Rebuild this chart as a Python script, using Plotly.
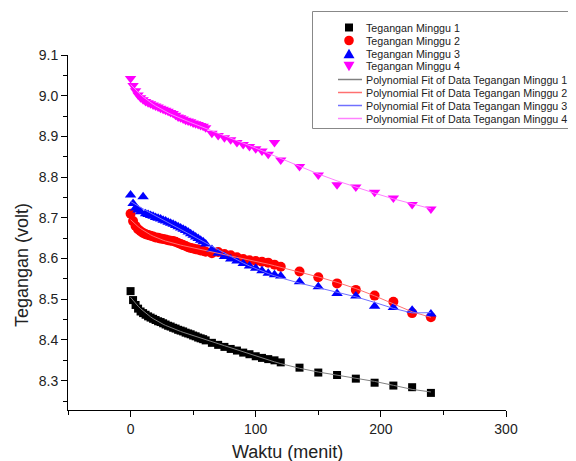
import numpy as np
import plotly.graph_objects as go

# Time (minutes)
waktu = [0, 2, 4, 6, 8, 10, 12, 14, 16, 18, 20, 22, 24, 26, 28, 30, 32, 34, 36, 38,
         40, 42, 44, 46, 48, 50, 52, 54, 56, 58, 60, 65, 70, 75, 80, 85, 90, 95, 100,
         105, 110, 115, 120, 135, 150, 165, 180, 195, 210, 225, 240]

minggu1 = [8.520, 8.498, 8.486, 8.477, 8.470, 8.466, 8.462, 8.458, 8.455, 8.452,
           8.449, 8.446, 8.444, 8.441, 8.438, 8.435, 8.433, 8.430, 8.428, 8.425,
           8.423, 8.421, 8.418, 8.416, 8.414, 8.411, 8.409, 8.406, 8.404, 8.402,
           8.399, 8.393, 8.388, 8.383, 8.378, 8.374, 8.369, 8.365, 8.360, 8.356,
           8.353, 8.350, 8.345, 8.332, 8.320, 8.314, 8.305, 8.295, 8.288, 8.284, 8.270]

minggu2 = [8.710, 8.692, 8.680, 8.672, 8.667, 8.663, 8.660, 8.658, 8.656, 8.654,
           8.652, 8.651, 8.649, 8.648, 8.647, 8.645, 8.644, 8.643, 8.641, 8.638,
           8.636, 8.633, 8.631, 8.628, 8.626, 8.625, 8.623, 8.622, 8.620, 8.619,
           8.617, 8.613, 8.616, 8.611, 8.608, 8.603, 8.599, 8.596, 8.594, 8.592,
           8.590, 8.585, 8.580, 8.568, 8.554, 8.539, 8.523, 8.509, 8.494, 8.466, 8.456]

minggu3 = [8.756, 8.735, 8.724, 8.719, 8.715, 8.752, 8.710, 8.708, 8.706, 8.704,
           8.701, 8.699, 8.697, 8.694, 8.692, 8.689, 8.687, 8.684, 8.681, 8.678,
           8.675, 8.672, 8.669, 8.665, 8.661, 8.657, 8.653, 8.649, 8.645, 8.641,
           8.636, 8.622, 8.613, 8.605, 8.599, 8.594, 8.588, 8.582, 8.576, 8.570,
           8.564, 8.560, 8.557, 8.543, 8.531, 8.514, 8.508, 8.483, 8.480, 8.473, 8.464]

minggu4 = [9.042, 9.025, 9.012, 9.002, 8.995, 8.990, 8.986, 8.983, 8.980, 8.977,
           8.975, 8.972, 8.969, 8.967, 8.964, 8.962, 8.959, 8.956, 8.952, 8.948,
           8.946, 8.943, 8.940, 8.938, 8.936, 8.933, 8.931, 8.929, 8.927, 8.925,
           8.921, 8.908, 8.902, 8.897, 8.892, 8.885, 8.880, 8.875, 8.870, 8.864,
           8.856, 8.885, 8.842, 8.826, 8.805, 8.781, 8.776, 8.763, 8.749, 8.733, 8.722]

names = ["Tegangan Minggu 1", "Tegangan Minggu 2", "Tegangan Minggu 3", "Tegangan Minggu 4"]
series = [minggu1, minggu2, minggu3, minggu4]
colors = ["#000000", "#ff0000", "#0000ff", "#ff00ff"]
fit_colors = ["#808080", "#ff7070", "#7070ff", "#ff80ff"]
symbols = ["square", "circle", "triangle-up", "triangle-down"]
sizes = [8, 10, 10, 10]

# The page has an 8px body margin; work in screen pixels and shift.
OFF = 8
W, H = 576, 461
SL, SR, ST, SB = 68, 506, 55, 410          # plot area on screen
L, R, T, B = SL - OFF, SR - OFF, ST - OFF, SB - OFF   # in figure coords


def px_x(sx):
    return (sx - SL) / (SR - SL)


def px_y(sy):
    return (SB - sy) / (SB - ST)


fig = go.Figure()
for name, ys, c, s, sz in zip(names, series, colors, symbols, sizes):
    fig.add_trace(go.Scatter(x=waktu, y=ys, mode="markers", name=name, showlegend=False,
                             marker=dict(color=c, symbol=s, size=sz, line=dict(width=0))))

xf = np.array(waktu, dtype=float)
fit_names = []
for name, ys, c in zip(names, series, fit_colors):
    p = np.polynomial.Polynomial.fit(xf, np.array(ys), 6)
    fname = "Polynomial Fit of Data " + name
    fit_names.append(fname)
    fig.add_trace(go.Scatter(x=xf, y=p(xf), mode="lines", name=fname, showlegend=False,
                             line=dict(color=c, width=1)))

# ---- legend drawn manually (screen pixel positions) ----
row_y = [27.5 + 13.0 * i for i in range(8)]
sym_x = 349
shapes = [dict(type="rect", xref="paper", yref="paper",
               x0=px_x(312.5), x1=px_x(575), y0=px_y(128.5), y1=px_y(11.5),
               line=dict(color="#888888", width=1), fillcolor="white", layer="below")]

h = 4
shapes.append(dict(type="rect", xref="paper", yref="paper",
                   x0=px_x(sym_x - h), x1=px_x(sym_x + h),
                   y0=px_y(row_y[0] + h), y1=px_y(row_y[0] - h),
                   line=dict(width=0), fillcolor=colors[0]))
r = 4.8
shapes.append(dict(type="circle", xref="paper", yref="paper",
                   x0=px_x(sym_x - r), x1=px_x(sym_x + r),
                   y0=px_y(row_y[1] + r), y1=px_y(row_y[1] - r),
                   line=dict(width=0), fillcolor=colors[1]))


def tri_path(cx, cy, up):
    hw, hh = 5.5, 4.8
    if up:
        pts = [(cx - hw, cy + hh), (cx + hw, cy + hh), (cx, cy - hh)]
    else:
        pts = [(cx - hw, cy - hh), (cx + hw, cy - hh), (cx, cy + hh)]
    return "M " + " L ".join(f"{px_x(a):.5f},{px_y(b):.5f}" for a, b in pts) + " Z"


shapes.append(dict(type="path", xref="paper", yref="paper", path=tri_path(sym_x, row_y[2], True),
                   line=dict(width=0), fillcolor=colors[2]))
shapes.append(dict(type="path", xref="paper", yref="paper", path=tri_path(sym_x, row_y[3], False),
                   line=dict(width=0), fillcolor=colors[3]))

for i, c in enumerate(fit_colors):
    shapes.append(dict(type="line", xref="paper", yref="paper",
                       x0=px_x(338), x1=px_x(362), y0=px_y(row_y[4 + i]), y1=px_y(row_y[4 + i]),
                       line=dict(color=c, width=1.5)))

font_fam = "Liberation Sans, Arial, sans-serif"
annotations = []
for i, txt in enumerate(names + fit_names):
    annotations.append(dict(text=txt, xref="paper", yref="paper", x=px_x(364), y=px_y(row_y[i]),
                            xanchor="left", yanchor="middle", showarrow=False,
                            font=dict(size=10.7, color="#222222", family=font_fam)))

# axis titles
annotations.append(dict(text="Waktu (menit)", xref="paper", yref="paper",
                        x=px_x(287), y=px_y(452), xanchor="center", yanchor="middle",
                        showarrow=False, font=dict(size=18, color="#222222", family=font_fam)))
annotations.append(dict(text="Tegangan (volt)", xref="paper", yref="paper", textangle=-90,
                        x=px_x(22), y=px_y(265), xanchor="center", yanchor="middle",
                        showarrow=False, font=dict(size=18, color="#222222", family=font_fam)))

axis_font = dict(family=font_fam, size=14, color="#222222")
fig.update_layout(
    width=W, height=H,
    margin=dict(l=L, r=W - R, t=T, b=H - B, autoexpand=False),
    paper_bgcolor="white", plot_bgcolor="white",
    font=dict(family=font_fam, color="#222222"),
    showlegend=False,
    shapes=shapes,
    annotations=annotations,
    xaxis=dict(range=[-50, 300], tick0=0, dtick=100, showgrid=False, zeroline=False,
               showline=True, linecolor="black", linewidth=1,
               ticks="outside", ticklen=6, tickcolor="black", tickfont=axis_font,
               minor=dict(tick0=0, dtick=50, ticks="outside", ticklen=4, tickcolor="black")),
    yaxis=dict(range=[8.228, 9.1], tick0=8.3, dtick=0.1, tickformat=".1f",
               showgrid=False, zeroline=False,
               showline=True, linecolor="black", linewidth=1,
               ticks="outside", ticklen=6, tickcolor="black", tickfont=axis_font,
               minor=dict(dtick=0.05, ticks="outside", ticklen=4, tickcolor="black")),
)

fig.write_html("out.html")
